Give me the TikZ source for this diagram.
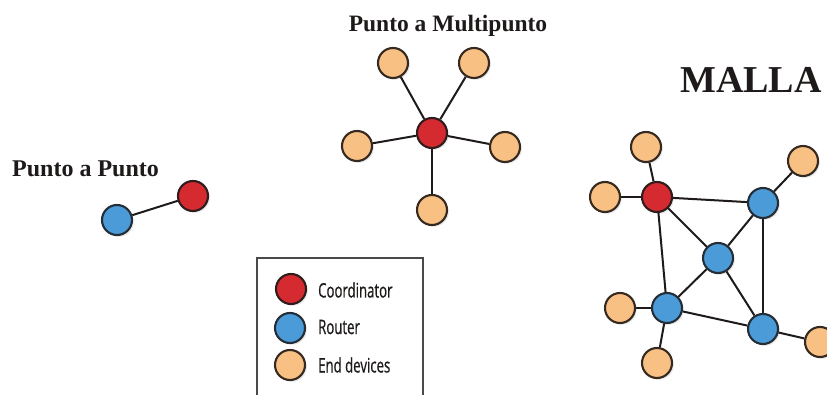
\documentclass[tikz,border=0pt]{standalone}
\usepackage{fontspec}
\setmainfont{Liberation Serif}
\newfontfamily\legendfont[FakeStretch=0.66, FakeBold=0.6]{Open Sans}
\usetikzlibrary{shadows}
\definecolor{coordred}{HTML}{D42A30}
\definecolor{routerblue}{HTML}{4A9BD8}
\definecolor{endorange}{HTML}{F9C084}
\definecolor{inkdark}{HTML}{1E1A1A}
\tikzset{
  dev/.style={circle, minimum size=30pt, inner sep=0pt, line width=2.1pt,
    drop shadow={opacity=0.18, shadow xshift=1.8pt, shadow yshift=-1.8pt}},
  coord/.style={dev, fill=coordred, draw=inkdark!90!coordred},
  router/.style={dev, fill=routerblue, draw=inkdark!85!routerblue},
  enddev/.style={dev, fill=endorange, draw=inkdark!85!brown},
  link/.style={line width=2pt, draw=inkdark},
  title/.style={font=\bfseries\fontsize{24}{27}\selectfont, inner sep=0pt, text=inkdark},
  legendtext/.style={font=\legendfont\fontsize{20}{22}\selectfont, anchor=west, inner sep=0pt, text=inkdark}
}
\begin{document}
\begin{tikzpicture}[x=1pt, y=-1pt]
\clip (0,0) rectangle (827,395);
\useasboundingbox (0,0) rectangle (827,395);

% ---- point to point ----
\node[title, anchor=base west] (tp2p) at (12,177) {Punto a Punto};
\node[router] (p2pR) at (117,220) {};
\node[coord] (p2pC) at (193,196) {};
\draw[link] (p2pR) -- (p2pC);

% ---- point to multipoint ----
\node[title, anchor=base, font=\bfseries\fontsize{23.5}{27}\selectfont] (tp2m) at (448,32) {Punto a Multipunto};
\node[enddev] (sTL) at (393,63) {};
\node[enddev] (sTR) at (474,63) {};
\node[enddev] (sL) at (357,146) {};
\node[enddev] (sR) at (505,147) {};
\node[enddev] (sB) at (432,210) {};
\node[coord] (sC) at (432,133) {};
\foreach \e in {sTL,sTR,sL,sR,sB}
  \draw[link] (sC) -- (\e);

% ---- mesh ----
\node[title, anchor=base west, font=\bfseries\fontsize{38}{42}\selectfont] (tmesh) at (680,93) {MALLA};
\node[coord] (nC) at (657,197) {};
\node[router] (nTRr) at (763,203) {};
\node[router] (nM) at (718,258) {};
\node[router] (nBLr) at (667,308) {};
\node[router] (nBRr) at (763,329) {};
\node[enddev] (nT) at (646,147) {};
\node[enddev] (nL) at (605,197) {};
\node[enddev] (nTR) at (803,161) {};
\node[enddev] (nBL) at (620,308) {};
\node[enddev] (nB) at (657,363) {};
\node[enddev] (nR) at (820,342) {};
\draw[link] (nC) -- (nTRr);
\draw[link] (nC) -- (nM);
\draw[link] (nC) -- (nBLr);
\draw[link] (nTRr) -- (nM);
\draw[link] (nTRr) -- (nBRr);
\draw[link] (nM) -- (nBLr);
\draw[link] (nM) -- (nBRr);
\draw[link] (nBLr) -- (nBRr);
\draw[link] (nC) -- (nT);
\draw[link] (nC) -- (nL);
\draw[link] (nTRr) -- (nTR);
\draw[link] (nBLr) -- (nBL);
\draw[link] (nBLr) -- (nB);
\draw[link] (nBRr) -- (nR);

% ---- legend ----
\draw[line width=1.4pt, draw=inkdark!80] (257,258) rectangle (423,420);
\node[coord] (lgC) at (291,289) {};
\node[router] (lgR) at (290,328) {};
\node[enddev] (lgE) at (290,365) {};
\node[legendtext] (lgCt) at (318,290) {Coordinator};
\node[legendtext] (lgRt) at (318,327) {Router};
\node[legendtext] (lgEt) at (318,365) {End devices};
\end{tikzpicture}
\end{document}
